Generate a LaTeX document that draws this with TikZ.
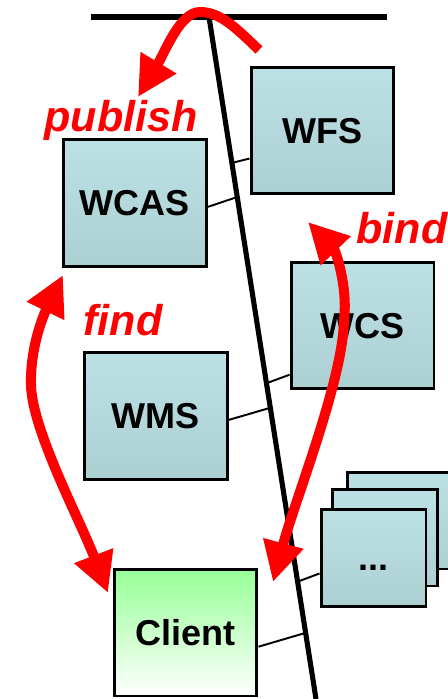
\documentclass[tikz,border=0pt]{standalone}
\usepackage{fontspec}
\setmainfont{Liberation Sans}
\usetikzlibrary{arrows.meta,calc}

\definecolor{boxtop}{RGB}{188,225,228}
\definecolor{boxbot}{RGB}{172,207,210}
\definecolor{clienttop}{RGB}{150,255,150}

\tikzset{
  svcbox/.style={draw=black, line width=1.7pt, top color=boxtop, bottom color=boxbot,
    minimum width=2.86cm, minimum height=2.54cm, inner sep=0pt,
    text height=14.7pt, text depth=0pt, font=\fontsize{20.5}{24}\selectfont\bfseries},
  stackbox/.style={svcbox, minimum width=2.1cm, minimum height=1.94cm},
  clientbox/.style={svcbox, top color=clienttop, bottom color=white},
  link/.style={black, line width=1.1pt},
  busline/.style={black, line width=2.9pt},
  bighead/.tip={Triangle[length=0.8cm,width=0.78cm]},
  redarrow/.style={red, line width=5.7pt, -bighead},
  redlabel/.style={text=red, inner sep=0pt, font=\fontsize{24.5}{28}\selectfont\bfseries\itshape}
}

\begin{document}
\begin{tikzpicture}[x=0.02cm, y=-0.02cm]
        \useasboundingbox (0,0) rectangle (447,699);

        % the boxes
        \node[svcbox] (wfs) at (322.5,130.5) {WFS};
        \node[svcbox] (wcas) at (135,203) {WCAS};
        \node[svcbox] (wcs) at (362.5,325.5) {WCS};
        \node[svcbox] (wms) at (156,416) {WMS};
        \node[stackbox] (stackc) at (400,520.5) {};
        \node[stackbox] (stackb) at (385,537.5) {};
        \node[stackbox] (dots) at (373.5,558) {...};
        \node[clientbox] (client) at (185.5,632.5) {Client};

        % bus
        \coordinate (barl) at (91,17);
        \coordinate (barr) at (387,17);
        \coordinate (bustop) at (209,17);
        \coordinate (busbot) at (316,699);
        \draw[busline] (barl) -- (barr);
        \draw[busline] (bustop) -- (busbot);

        \coordinate (bwfs) at ($(bustop)!0.214!(busbot)$);
        \coordinate (bwcas) at ($(bustop)!0.264!(busbot)$);
        \coordinate (bwcs) at ($(bustop)!0.537!(busbot)$);
        \coordinate (bwms) at ($(bustop)!0.573!(busbot)$);
        \coordinate (bdots) at ($(bustop)!0.828!(busbot)$);
        \coordinate (bclient) at ($(bustop)!0.903!(busbot)$);

        \draw[link] (wfs.201) -- (bwfs);
        \draw[link] (wcas.357) -- (bwcas);
        \draw[link] (wcs.214) -- (bwcs);
        \draw[link] (wms.357) -- (bwms);
        \draw[link] (dots.196) -- (bdots);
        \draw[link] (client.349) -- (bclient);

        % publish / find / bind
        \coordinate (pubstart) at (259,50);
        \coordinate (pubpeak) at (200,12);
        \coordinate (pubtip) at (138,97);
        \draw[redarrow] (pubstart) .. controls (235,27) and (220,12) .. (pubpeak)
              .. controls (180,12) and (165,52) .. (pubtip);

        \coordinate (findtop) at (63,275);
        \coordinate (findmid) at (31,385);
        \coordinate (findbot) at (108,593);
        \draw[redarrow, bighead-bighead]
              (findtop) .. controls (45,312) and (30,345) .. (findmid)
              .. controls (32,430) and (80,520) .. (findbot);

        \coordinate (bindtop) at (308,222);
        \coordinate (bindmid) at (344,320);
        \coordinate (bindbot) at (273,582);
        \draw[redarrow, bighead-bighead]
              (bindtop) .. controls (335,250) and (348,285) .. (bindmid)
              .. controls (343,380) and (295,500) .. (bindbot);

        \node[redlabel, anchor=base] (publish) at (121,132) {publish};
        \node[redlabel, anchor=base] (find) at (123,335) {find};
        \node[redlabel, anchor=base] (bind) at (402,243) {bind};
\end{tikzpicture}
\end{document}
